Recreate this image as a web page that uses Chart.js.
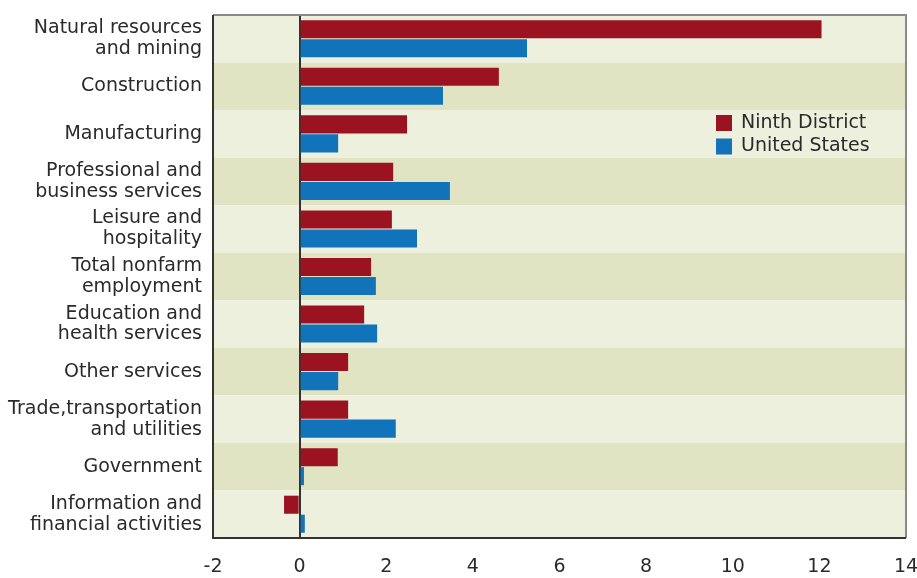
<!DOCTYPE html>
<html><head><meta charset="utf-8">
<script src="https://cdn.jsdelivr.net/npm/chart.js@4"></script>
<style>html,body{margin:0;padding:0;background:#fff}#wrap{width:917px;height:578px}</style>
</head><body><div id="wrap"><canvas id="c" width="917" height="578"></canvas></div>
<script>
const categories = [
  ["Natural resources","and mining"],
  "Construction",
  "Manufacturing",
  ["Professional and","business services"],
  ["Leisure and","hospitality"],
  ["Total nonfarm","employment"],
  ["Education and","health services"],
  "Other services",
  ["Trade,transportation","and utilities"],
  "Government",
  ["Information and","financial activities"]
];
const ninthDistrict = [12.05, 4.6, 2.48, 2.16, 2.13, 1.65, 1.49, 1.12, 1.12, 0.88, -0.36];
const unitedStates  = [5.25, 3.31, 0.89, 3.47, 2.71, 1.76, 1.79, 0.89, 2.22, 0.1, 0.12];
const xTicks = [-2, 0, 2, 4, 6, 8, 10, 12, 14];

const FONT = "'DejaVu Sans', sans-serif";
const FSIZE = 19;
const TEXT = '#2a2a2a';

const bandPlugin = {
  id: 'bands',
  beforeDraw(chart) {
    const {ctx, chartArea: a, scales: {y}} = chart;
    const n = categories.length;
    const h = (a.bottom - a.top) / n;
    ctx.save();
    for (let i = 0; i < n; i++) {
      const c = y.getPixelForValue(i);
      ctx.fillStyle = i % 2 === 0 ? '#edf0dd' : '#e1e4c2';
      ctx.fillRect(a.left, c - h / 2, a.right - a.left, h);
    }
    ctx.restore();
  },
  afterDraw(chart) {
    const {ctx, chartArea: a} = chart;
    ctx.save();
    ctx.strokeStyle = '#8a8a8a';
    ctx.lineWidth = 2;
    ctx.beginPath();
    ctx.moveTo(a.left, a.top); ctx.lineTo(a.right, a.top); ctx.lineTo(a.right, a.bottom);
    ctx.stroke();
    ctx.strokeStyle = '#333';
    ctx.beginPath();
    ctx.moveTo(a.left, a.top); ctx.lineTo(a.left, a.bottom); ctx.lineTo(a.right, a.bottom);
    ctx.stroke();
    // legend
    const ds = chart.data.datasets;
    ctx.font = FSIZE + 'px ' + FONT;
    ctx.textBaseline = 'middle';
    ds.forEach((d, i) => {
      const yy = 115 + i * 23.5;
      ctx.fillStyle = d.backgroundColor;
      ctx.fillRect(716, yy, 16, 16);
      ctx.fillStyle = TEXT;
      ctx.fillText(d.label, 741, yy + 8);
    });
    ctx.restore();
  }
};

new Chart(document.getElementById('c'), {
  type: 'bar',
  data: {
    labels: categories,
    datasets: [
      {label: 'Ninth District', data: ninthDistrict, backgroundColor: '#9b1320', categoryPercentage: 0.8, barPercentage: 0.95},
      {label: 'United States', data: unitedStates, backgroundColor: '#1174bb', categoryPercentage: 0.8, barPercentage: 0.95}
    ]
  },
  options: {
    indexAxis: 'y',
    responsive: false,
    animation: false,
    layout: {autoPadding: false, padding: {top: 15, right: 11, left: 0, bottom: 0}},
    plugins: {legend: {display: false}, tooltip: {enabled: false}},
    scales: {
      x: {
        min: -2, max: 14,
        afterBuildTicks: s => { s.ticks = xTicks.map(v => ({value: v})); },
        afterFit: s => { s.height = 40; s.paddingLeft = 0; s.paddingRight = 0; s.paddingTop = 0; s.paddingBottom = 0; },
        ticks: {font: {family: FONT, size: FSIZE}, color: TEXT, padding: 18},
        grid: {
          drawTicks: false,
          color: ctx => (ctx.tick && ctx.tick.value === 0) ? '#333' : 'rgba(0,0,0,0)',
          lineWidth: 2
        },
        border: {display: false}
      },
      y: {
        afterFit: s => { s.width = 213; s.paddingLeft = 0; s.paddingRight = 0; s.paddingTop = 0; s.paddingBottom = 0; },
        ticks: {font: {family: FONT, size: FSIZE, lineHeight: 1.1}, color: TEXT, padding: 11},
        grid: {display: false, drawTicks: false},
        border: {display: false}
      }
    }
  },
  plugins: [bandPlugin]
});
</script>
</body></html>
